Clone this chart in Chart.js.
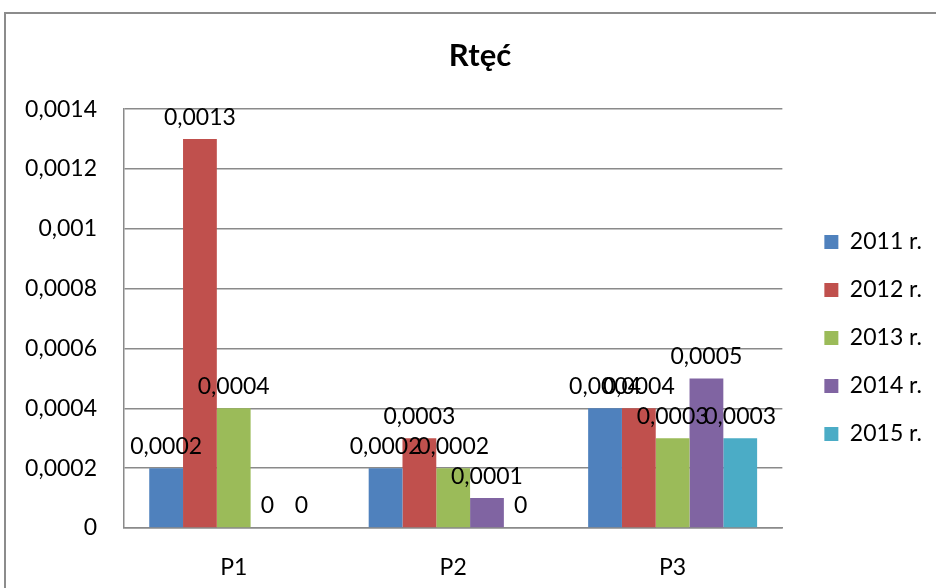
<!DOCTYPE html>
<html>
<head>
<meta charset="utf-8">
<script src="https://cdn.jsdelivr.net/npm/chart.js@4.4.1/dist/chart.umd.min.js"></script>
<style>
  html, body { margin: 0; padding: 0; background: #fff; }
  #wrap { position: relative; width: 936px; height: 588px; overflow: hidden; }
  #frame { position: absolute; left: 4px; top: 12px; width: 1000px; height: 700px;
           border-left: 2px solid #8c8c8c; border-top: 2px solid #8c8c8c; }
  canvas { position: absolute; left: 0; top: 0; }
</style>
</head>
<body>
<div id="wrap">
  <div id="frame"></div>
  <canvas id="c" width="936" height="588"></canvas>
</div>
<script>
// Mercury concentration per measuring point, by year
const categories = ['P1', 'P2', 'P3'];
const seriesNames = ['2011 r.', '2012 r.', '2013 r.', '2014 r.', '2015 r.'];
const v2011 = [0.0002, 0.0002, 0.0004];
const v2012 = [0.0013, 0.0003, 0.0004];
const v2013 = [0.0004, 0.0002, 0.0003];
const v2014 = [0, 0.0001, 0.0005];
const v2015 = [0, 0, 0.0003];
const yTickLabels = ['0', '0,0002', '0,0004', '0,0006', '0,0008', '0,001', '0,0012', '0,0014'];
const colors = ['#4F81BD', '#C0504D', '#9BBB59', '#8064A2', '#4BACC6'];

const FONT = 'Lato';
const series = [v2011, v2012, v2013, v2014, v2015];
const fmt = v => String(v).replace('.', ',');

// value labels above each bar
const valueLabels = {
  id: 'valueLabels',
  afterDatasetsDraw(chart) {
    const ctx = chart.ctx;
    ctx.save();
    ctx.font = '23px ' + FONT;
    ctx.fillStyle = '#000';
    ctx.textAlign = 'center';
    ctx.textBaseline = 'middle';
    chart.data.datasets.forEach((ds, i) => {
      chart.getDatasetMeta(i).data.forEach((el, j) => {
        ctx.fillText(fmt(ds.data[j]), el.x, el.y - 22);
      });
    });
    ctx.restore();
  }
};

// centre the title over the frame, keep the legend a little away from
// the plot and centred on its rows
const boxPlace = {
  id: 'boxPlace',
  afterLayout(chart) {
    const t = chart.titleBlock;
    const dx = 480 - (t.left + t.right) / 2;
    t.left += dx;
    t.right += dx;

    const lg = chart.legend;
    const w = lg.width, h = lg.height;
    lg.left = chart.chartArea.right + 17;
    lg.right = lg.left + w;
    lg.top = (676 - h) / 2;
    lg.bottom = lg.top + h;
  }
};

Chart.defaults.color = '#000';
Chart.defaults.font.family = FONT;

new Chart(document.getElementById('c'), {
  type: 'bar',
  data: {
    labels: categories,
    datasets: seriesNames.map((name, i) => ({
      label: name,
      data: series[i],
      backgroundColor: colors[i],
      borderWidth: 0,
      categoryPercentage: 0.77,
      barPercentage: 1
    }))
  },
  options: {
    responsive: false,
    animation: false,
    devicePixelRatio: 1,
    layout: { padding: { left: 20, right: 21, top: 0, bottom: 0 } },
    plugins: {
      title: {
        display: true,
        text: 'Rtęć',
        color: '#000',
        font: { family: FONT, size: 31, weight: 'bold' },
        padding: { top: 37, bottom: 35 }
      },
      legend: {
        position: 'right',
        labels: {
          boxWidth: 14,
          boxHeight: 14,
          padding: 25,
          color: '#000',
          font: { family: FONT, size: 23 }
        }
      },
      tooltip: { enabled: false }
    },
    scales: {
      x: {
        grid: { display: false, drawTicks: false },
        border: { display: true, color: '#8a8a8a', width: 1.5 },
        ticks: { padding: 26, font: { size: 23 }, color: '#000' },
        afterFit: s => { s.height = 60; }
      },
      y: {
        min: 0,
        max: 0.0014,
        grid: { color: '#8a8a8a', lineWidth: 1.5, drawTicks: false, tickLength: 0 },
        border: { display: true, color: '#8a8a8a', width: 1.5 },
        ticks: {
          stepSize: 0.0002,
          padding: 27,
          font: { size: 23 },
          color: '#000',
          callback: (v, i) => yTickLabels[i]
        },
        afterFit: s => { s.width = 104; }
      }
    }
  },
  plugins: [valueLabels, boxPlace]
});
</script>
</body>
</html>
